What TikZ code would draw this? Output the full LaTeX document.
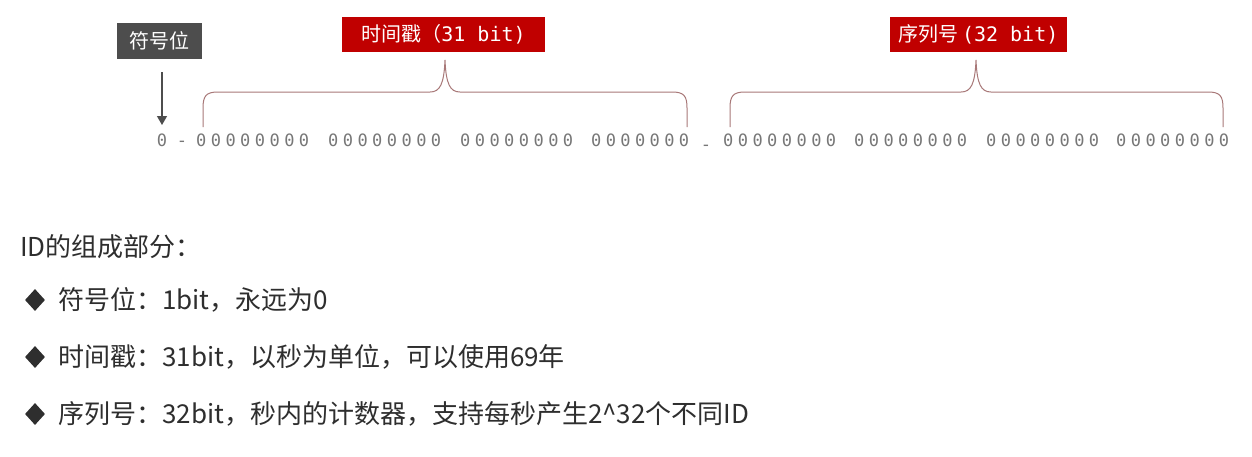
\documentclass[tikz,border=0pt]{standalone}
\usepackage{fontspec}
\setmainfont{Noto Sans CJK SC}
\newfontfamily\monof{DejaVu Sans Mono}
\usetikzlibrary{shapes.geometric,arrows.meta}
\definecolor{tagred}{HTML}{C00000}
\definecolor{taggray}{HTML}{4D4D4D}
\definecolor{bitgray}{HTML}{777777}
\definecolor{bracecol}{HTML}{A87878}
\definecolor{txtcol}{HTML}{2E2E2E}
\newcommand\zeight{\makebox[113pt][s]{0\hfil0\hfil0\hfil0\hfil0\hfil0\hfil0\hfil0}}
\newcommand\zseven{\makebox[98pt][s]{0\hfil0\hfil0\hfil0\hfil0\hfil0\hfil0}}
\tikzset{
  tagbox/.style={fill=#1, text=white, inner sep=0pt, font=\fontsize{20}{23}\selectfont},
  bits/.style={text=bitgray, inner sep=0pt, anchor=base west, font=\monof\fontsize{17}{19}\selectfont},
  bracepath/.style={draw=bracecol, line width=1pt},
  bullet/.style={diamond, fill=txtcol, inner sep=0pt, minimum width=20pt, minimum height=22pt},
  line/.style={text=txtcol, inner sep=0pt, anchor=west, font=\fontsize{26}{30}\selectfont},
}
\begin{document}
\begin{tikzpicture}[x=1pt,y=-1pt]
\fill[white] (0,0) rectangle (1252,456);
\useasboundingbox (0,0) rectangle (1252,456);

% tags
\node[tagbox=taggray, minimum width=85pt, minimum height=36pt] (sign) at (159.5,41) {符号位};
\node[tagbox=tagred, minimum width=203pt, minimum height=35pt] (ts) at (443.5,34.5) {时间戳（{\monof 31 bit)}};
\node[tagbox=tagred, minimum width=177pt, minimum height=35pt] (seq) at (978.5,34.5) {序列号\,{\monof (32 bit)}};

% bits
\node[bits, anchor=base] (b0) at (162,146) {0};
\node[bits, anchor=base] (d1) at (182,146) {-};
\node[bits] (g1) at (196,146) {\zeight};
\node[bits] (g2) at (328,146) {\zeight};
\node[bits] (g3) at (460,146) {\zeight};
\node[bits] (g4) at (591,146) {\zseven};
\node[bits, anchor=base] (d2) at (706,150) {-};
\node[bits] (g5) at (723,146) {\zeight};
\node[bits] (g6) at (854,146) {\zeight};
\node[bits] (g7) at (986,146) {\zeight};
\node[bits] (g8) at (1116,146) {\zeight};

% arrow
\coordinate (arrstart) at (162,72);
\draw[taggray, line width=1.2pt, -{Triangle[length=9pt,width=10pt]}] (arrstart) -- (b0.north |- 0,125);

% braces
\coordinate (t1) at (203,127);
\coordinate (t2) at (687,127);
\coordinate (tp) at (445,60);
\draw[bracepath] (t1) -- (203,108) .. controls (203,96) and (206,92) .. (218,92) -- (430,92)
  .. controls (440,92) and (444,84) .. (tp) .. controls (446,84) and (450,92) .. (460,92)
  -- (672,92) .. controls (684,92) and (687,96) .. (687,108) -- (t2);
\coordinate (s1) at (730,127);
\coordinate (s2) at (1223,127);
\coordinate (sp) at (976,60);
\draw[bracepath] (s1) -- (730,108) .. controls (730,96) and (733,92) .. (745,92) -- (961,92)
  .. controls (971,92) and (975,84) .. (sp) .. controls (977,84) and (981,92) .. (991,92)
  -- (1208,92) .. controls (1220,92) and (1223,96) .. (1223,108) -- (s2);

% text
\node[line] (title) at (20,247) {ID的组成部分：};
\node[bullet] (m1) at (35,300) {};
\node[line] (l1) at (58,300) {符号位：1bit，永远为0};
\node[bullet] (m2) at (35,357) {};
\node[line] (l2) at (58,357) {时间戳：31bit，以秒为单位，可以使用69年};
\node[bullet] (m3) at (35,414) {};
\node[line] (l3) at (58,414) {序列号：32bit，秒内的计数器，支持每秒产生2\^{}32个不同ID};
\end{tikzpicture}
\end{document}
